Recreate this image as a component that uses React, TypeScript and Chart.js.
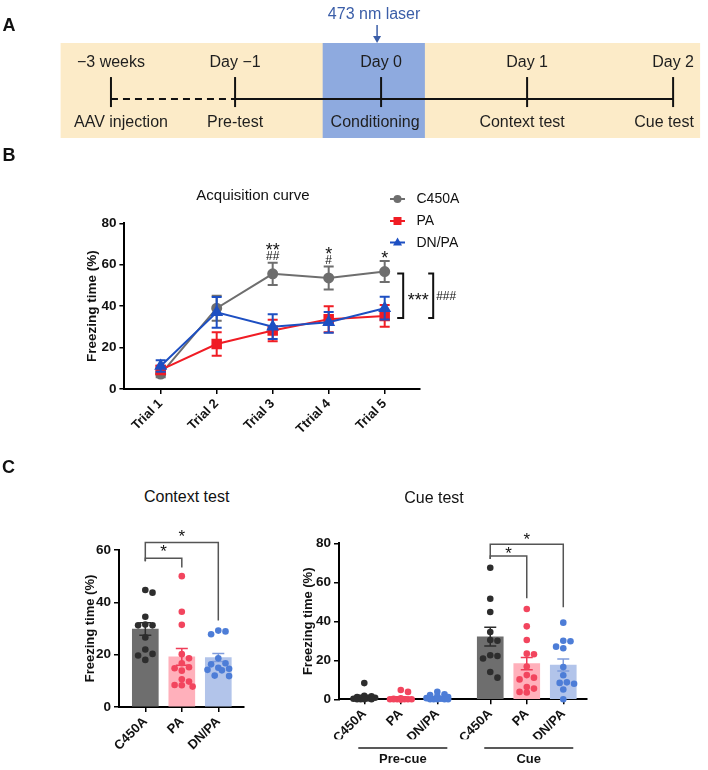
import React, { useEffect, useRef } from 'react';
import { Chart, registerables } from 'chart.js';
Chart.register(...registerables);

const FONT = "'Liberation Sans', Arial, Helvetica, sans-serif";
Chart.defaults.font.family = FONT;
Chart.defaults.color = '#111';

// ---------------- Panel A (timeline) ----------------
const timelineTop = ['\u22123 weeks', 'Day \u22121', 'Day 0', 'Day 1', 'Day 2'];
const timelineBottom = ['AAV injection', 'Pre-test', 'Conditioning', 'Context test', 'Cue test'];
const timelineDay = [-1.85, -1, 0, 1, 2];
const laserText = '473 nm laser';
const laserDay = 0;

// ---------------- Panel B (acquisition curve) ----------------
const groups = ['C450A', 'PA', 'DN/PA'];
const trials = ['Trial 1', 'Trial 2', 'Trial 3', 'Ttrial 4', 'Trial 5'];
const acqC450A = [7.2, 39, 55.6, 53.6, 56.7];
const acqC450AErr = [1.5, 6, 5.4, 5.6, 5.1];
const acqPA = [9.2, 21.7, 28.2, 33.7, 35.3];
const acqPAErr = [2, 5.7, 5.2, 6.3, 5.3];
const acqDN = [11.1, 37, 30.1, 32.2, 39];
const acqDNErr = [2.8, 7.4, 6, 5, 5.5];
const acqSigPA = ['', '', '**', '*', '*'];
const acqSigDN = ['', '', '##', '#', ''];
const acqOverallPA = '***';
const acqOverallDN = '###';

// ---------------- Panel C (context test) ----------------
const ctxMean = [29.8, 19.2, 18.9];
const ctxSem = [2.4, 3.2, 1.5];
const ctxC450A = [44.7, 43.7, 34.5, 31.2, 31.2, 31.5, 26.6, 22.0, 20.3, 19.7, 18.0];
const ctxPA = [50, 36.4, 31.4, 20.2, 18.6, 16.7, 15.2, 14.8, 13.9, 10.6, 9.7, 8.4, 7.8, 8.3];
const ctxDN = [29.2, 28.9, 27.8, 18.6, 16.7, 16.3, 15.0, 14.6, 14.2, 14.0, 12.0, 11.8];

// ---------------- Panel C (cue test) ----------------
const cuePhases = ['Pre-cue', 'Cue'];
const preMean = [1.3, 0.8, 1.0];
const preSem = [0.8, 0.5, 0.4];
const cueMean = [32.1, 18.3, 17.6];
const cueSem = [4.8, 3.2, 3.1];
const preC450A = [8.3, 1.8, 1.5, 1.2, 0.8, 0.5, 0.3, 0, 0, 0, 0];
const prePA = [4.8, 3.8, 0.5, 0.3, 0, 0, 0, 0, 0, 0, 0, 0, 0, 0];
const preDN = [3.9, 2.6, 2.2, 1.5, 1.2, 0.6, 0.3, 0, 0, 0, 0, 0];
const cueC450A = [67.5, 51.6, 44.8, 34.5, 30.4, 30.0, 22.6, 22.2, 20.9, 14.0, 11.1];
const cuePA = [46.3, 37.4, 30.4, 23.4, 23.1, 16.8, 12.4, 11.1, 10.2, 6.3, 5.5, 3.8, 3.5];
const cueDN = [39.3, 30.0, 29.8, 27.0, 26.2, 16.6, 12.3, 8.7, 8.4, 8.0, 5.0, 0.0];

// ---------------- styles ----------------
const barColors = ['#6e6e6e', '#ffb0bb', '#b2c4ea'];
const dotColors = ['#2d2d2d', '#f2455e', '#4d7dd7'];
const errColors = ['#2d2d2d', '#ef3d58', '#7f9cdc'];
const lineColors = ['#6e6e6e', '#f01c24', '#1d4fc2'];
const lineStyles = ['circle', 'rect', 'triangle'];
const lineRadius = [4.5, 6, 5.5];

function glyph(ctx: CanvasRenderingContext2D, text: string, x: number, cy: number, size: number, weight = 'normal') {
  ctx.save();
  ctx.font = `${weight} ${size}px ${FONT}`;
  ctx.textAlign = 'center';
  ctx.textBaseline = 'alphabetic';
  const k = text.includes('#') ? 0.355 : 0.56;
  ctx.fillText(text, x, cy + k * size);
  ctx.restore();
}

function swarmOffsets(vals: number[], pxPerY: number, d: number, maxHalf: number) {
  const idx = vals.map((_, i) => i).sort((a, b) => vals[b] - vals[a]);
  const placed: { x: number; y: number }[] = [];
  const out = new Array(vals.length).fill(0);
  const cands = [0];
  for (let k = 1; (k * d) / 2 <= maxHalf; k++) cands.push((k * d) / 2, (-k * d) / 2);
  for (const i of idx) {
    const y = vals[i] * pxPerY;
    let best = 0;
    let bestScore = -1;
    for (const c of cands) {
      let m = Infinity;
      for (const p of placed) m = Math.min(m, Math.hypot(p.x - c, p.y - y));
      if (m >= d) { best = c; break; }
      if (m > bestScore) { bestScore = m; best = c; }
    }
    placed.push({ x: best, y });
    out[i] = best;
  }
  return out;
}

const axisCommon = (w: number) => ({
  border: { display: true, color: '#000', width: w },
  grid: { display: true, drawOnChartArea: false, drawTicks: true, tickLength: 5, color: '#000', lineWidth: 1.5 },
});

// ---------------- Chart A ----------------
function makeA(canvas: HTMLCanvasElement) {
  const bottomNudge = [10, 0, -6, -5, -9];
  const plugin = {
    id: 'timeline',
    beforeDatasetsDraw(chart: any) {
      const { ctx, chartArea: a } = chart;
      const x = chart.scales.x;
      ctx.save();
      ctx.fillStyle = '#fcebc8';
      const l = x.getPixelForValue(timelineDay[0] - 0.345), r = x.getPixelForValue(timelineDay[4] + 0.185);
      ctx.fillRect(l, a.top, r - l, a.bottom - a.top);
      ctx.fillStyle = '#8eaadf';
      const bl = x.getPixelForValue(laserDay - 0.4), br = x.getPixelForValue(laserDay + 0.3);
      ctx.fillRect(bl, a.top, br - bl, a.bottom - a.top);
      ctx.restore();
    },
    afterDatasetsDraw(chart: any) {
      const { ctx, chartArea: a } = chart;
      const x = chart.scales.x, y = chart.scales.y;
      const ly = y.getPixelForValue(0);
      ctx.save();
      ctx.strokeStyle = '#111';
      ctx.lineWidth = 2;
      timelineDay.forEach((d: number) => {
        const px = x.getPixelForValue(d);
        ctx.beginPath(); ctx.moveTo(px, ly - 22); ctx.lineTo(px, ly + 8); ctx.stroke();
      });
      ctx.fillStyle = '#1e1e1e';
      ctx.font = `16px ${FONT}`;
      ctx.textAlign = 'center';
      ctx.textBaseline = 'middle';
      timelineDay.forEach((d: number, i: number) => {
        const px = x.getPixelForValue(d);
        ctx.fillText(timelineTop[i], px, ly - 36);
        ctx.fillText(timelineBottom[i], px + bottomNudge[i], ly + 24);
      });
      const lx = x.getPixelForValue(laserDay) - 4;
      ctx.fillStyle = '#3b5ea8';
      ctx.strokeStyle = '#3b5ea8';
      ctx.fillText(laserText, lx - 3, 15);
      ctx.lineWidth = 1.5;
      ctx.beginPath(); ctx.moveTo(lx, 25); ctx.lineTo(lx, a.top - 6); ctx.stroke();
      ctx.beginPath(); ctx.moveTo(lx - 4, a.top - 7); ctx.lineTo(lx + 4, a.top - 7); ctx.lineTo(lx, a.top); ctx.closePath(); ctx.fill();
      ctx.restore();
    },
  };
  return new Chart(canvas, {
    type: 'scatter',
    data: {
      datasets: [
        { data: timelineDay.slice(0, 2).map((d) => ({ x: d, y: 0 })), showLine: true, borderDash: [7, 5], borderColor: '#111', borderWidth: 2, pointRadius: 0 },
        { data: timelineDay.slice(1).map((d) => ({ x: d, y: 0 })), showLine: true, borderColor: '#111', borderWidth: 2, pointRadius: 0 },
      ],
    } as any,
    options: {
      responsive: false, animation: false, events: [],
      layout: { padding: { top: 43, bottom: 7, left: 0, right: 0 } },
      plugins: { legend: { display: false }, tooltip: { enabled: false } },
      scales: {
        x: { type: 'linear', display: false, min: -2.61, max: 2.239 },
        y: { type: 'linear', display: false, min: -0.82, max: 1.18 },
      },
    } as any,
    plugins: [plugin],
  });
}

// ---------------- Chart B ----------------
function makeB(canvas: HTMLCanvasElement) {
  const series = [
    { vals: acqC450A, errs: acqC450AErr },
    { vals: acqPA, errs: acqPAErr },
    { vals: acqDN, errs: acqDNErr },
  ];
  const datasets = series.map((s, k) => ({
    label: groups[k],
    data: s.vals.map((v, i) => ({ x: i + 1, y: v })),
    borderColor: lineColors[k], backgroundColor: lineColors[k],
    pointBackgroundColor: lineColors[k], pointBorderColor: lineColors[k],
    pointStyle: lineStyles[k], pointRadius: lineRadius[k], borderWidth: 2,
    errs: s.errs, order: 3 - k, clip: false,
  }));
  const plugin = {
    id: 'acqDecor',
    afterDatasetDraw(chart: any, args: any) {
      const ds: any = chart.data.datasets[args.index];
      const ctx = chart.ctx; const y = chart.scales.y;
      ctx.save();
      ctx.strokeStyle = ds.borderColor; ctx.lineWidth = 2;
      args.meta.data.forEach((el: any, j: number) => {
        const v = ds.data[j].y, e = ds.errs[j];
        const t = y.getPixelForValue(v + e), b = y.getPixelForValue(v - e);
        ctx.beginPath();
        ctx.moveTo(el.x, t); ctx.lineTo(el.x, b);
        ctx.moveTo(el.x - 5, t); ctx.lineTo(el.x + 5, t);
        ctx.moveTo(el.x - 5, b); ctx.lineTo(el.x + 5, b);
        ctx.stroke();
      });
      ctx.restore();
    },
    afterDraw(chart: any) {
      const ctx = chart.ctx; const x = chart.scales.x, y = chart.scales.y;
      ctx.save();
      ctx.fillStyle = '#111';
      // significance per trial
      acqC450A.forEach((v, i) => {
        const px = x.getPixelForValue(i + 1);
        const top = y.getPixelForValue(v + acqC450AErr[i]);
        if (acqSigDN[i]) {
          glyph(ctx, acqSigPA[i], px, top - 16.5, 18);
          glyph(ctx, acqSigDN[i], px, top - 6.5, 12);
        } else if (acqSigPA[i]) {
          glyph(ctx, acqSigPA[i], px, top - 7.5, 18);
        }
      });
      // overall brackets
      const last = acqC450A.length - 1;
      const x5 = x.getPixelForValue(last + 1);
      const yt = y.getPixelForValue(acqC450A[last]) + 2;
      const yb = y.getPixelForValue(acqPA[last]) + 2;
      ctx.strokeStyle = '#111'; ctx.lineWidth = 2;
      [[18.5, 6], [48.5, 5]].forEach(([dx, tl]) => {
        ctx.beginPath();
        ctx.moveTo(x5 + dx - tl, yt); ctx.lineTo(x5 + dx, yt); ctx.lineTo(x5 + dx, yb); ctx.lineTo(x5 + dx - tl, yb);
        ctx.stroke();
      });
      glyph(ctx, acqOverallPA, x5 + 33.5, (yt + yb) / 2, 18);
      glyph(ctx, acqOverallDN, x5 + 61.5, (yt + yb) / 2, 12);
      // legend
      const rows = [59, 81, 102.5];
      chart.data.datasets.forEach((ds: any, k: number) => {
        const ry = rows[k];
        ctx.strokeStyle = ds.borderColor; ctx.fillStyle = ds.borderColor; ctx.lineWidth = 2;
        ctx.beginPath(); ctx.moveTo(390, ry); ctx.lineTo(405, ry); ctx.stroke();
        const mx = 397.5;
        ctx.beginPath();
        if (ds.pointStyle === 'circle') ctx.arc(mx, ry, 4, 0, Math.PI * 2);
        else if (ds.pointStyle === 'rect') ctx.rect(mx - 4, ry - 4, 8, 8);
        else { ctx.moveTo(mx, ry - 5); ctx.lineTo(mx + 4.5, ry + 3); ctx.lineTo(mx - 4.5, ry + 3); ctx.closePath(); }
        ctx.fill();
        ctx.fillStyle = '#111';
        ctx.font = `14px ${FONT}`; ctx.textAlign = 'left'; ctx.textBaseline = 'middle';
        ctx.fillText(ds.label, 416.5, ry + 0.5);
      });
      ctx.restore();
    },
  };
  return new Chart(canvas, {
    type: 'line',
    data: { datasets } as any,
    options: {
      responsive: false, animation: false, events: [],
      layout: { padding: { top: 83.3, right: 70.7, left: 83.9, bottom: 0 } },
      plugins: { legend: { display: false }, tooltip: { enabled: false } },
      scales: {
        x: {
          type: 'linear', min: 0.352, max: 5.618, offset: false,
          afterBuildTicks: (s: any) => { s.ticks = trials.map((_, i) => ({ value: i + 1 })); },
          afterFit: (s: any) => { s.height = 51; },
          ticks: { autoSkip: false, callback: (_v: any, i: number) => trials[i], minRotation: 45, maxRotation: 45, font: { size: 13, weight: 'bold' }, color: '#111', padding: 2 },
          ...axisCommon(2),
        },
        y: {
          min: 0, max: 80,
          afterFit: (s: any) => { s.width = 40.5; },
          ticks: { stepSize: 20, font: { size: 13.5, weight: 'bold' }, color: '#111', padding: 3 },
          title: { display: true, text: 'Freezing time (%)', font: { size: 13.5, weight: 'bold' }, color: '#111', padding: { top: 0, bottom: 0 } },
          ...axisCommon(2),
        },
      },
    } as any,
    plugins: [plugin],
  });
}

// ---------------- Bar + dot charts (C) ----------------
const barDecor = {
  id: 'barDecor',
  afterDatasetDraw(chart: any, args: any) {
    const ds: any = chart.data.datasets[args.index];
    if (!ds.sem) return;
    const ctx = chart.ctx; const y = chart.scales.y;
    ctx.save();
    ctx.lineWidth = 1.5;
    args.meta.data.forEach((el: any, j: number) => {
      const v = ds.data[j].y, e = ds.sem[j];
      const t = y.getPixelForValue(v + e), b = y.getPixelForValue(Math.max(v - e, 0));
      ctx.strokeStyle = ds.errColors[j];
      ctx.beginPath();
      ctx.moveTo(el.x, t); ctx.lineTo(el.x, b);
      ctx.moveTo(el.x - 6, t); ctx.lineTo(el.x + 6, t);
      ctx.moveTo(el.x - 6, b); ctx.lineTo(el.x + 6, b);
      ctx.stroke();
    });
    ctx.restore();
  },
  afterDraw(chart: any, _a: any, opts: any) {
    const ctx = chart.ctx; const xs = chart.scales.x, ys = chart.scales.y;
    const pos: number[] = opts.positions;
    ctx.save();
    ctx.strokeStyle = '#555'; ctx.lineWidth = 1.5; ctx.fillStyle = '#111';
    const tops = opts.brackets.map((b: any) => ys.getPixelForValue(b.top));
    const leftBottom = Math.max(...tops) + 3;
    opts.brackets.forEach((b: any) => {
      const x1 = xs.getPixelForValue(pos[b.from]), x2 = xs.getPixelForValue(pos[b.to]);
      const yt = ys.getPixelForValue(b.top), yl = ys.getPixelForValue(b.legEnd);
      ctx.beginPath();
      ctx.moveTo(x1, leftBottom); ctx.lineTo(x1, yt); ctx.lineTo(x2, yt); ctx.lineTo(x2, yl);
      ctx.stroke();
      glyph(ctx, b.label, (x1 + x2) / 2, yt - b.gap, 17);
    });
    if (opts.phases) {
      const a = chart.chartArea;
      ctx.strokeStyle = '#222'; ctx.lineWidth = 1.5;
      opts.phases.forEach((p: any) => {
        const x1 = xs.getPixelForValue(pos[p.first]) - 6, x2 = xs.getPixelForValue(pos[p.last]) + 10;
        ctx.beginPath(); ctx.moveTo(x1, a.bottom + 48.7); ctx.lineTo(x2, a.bottom + 48.7); ctx.stroke();
        ctx.font = `bold 13px ${FONT}`; ctx.textAlign = 'center'; ctx.textBaseline = 'middle';
        ctx.fillText(p.label, (x1 + x2) / 2, a.bottom + 60);
      });
    }
    ctx.restore();
  },
};

function makeBarChart(canvas: HTMLCanvasElement, cfg: any) {
  const { positions, labels, means, sems, dots, colorIdx, xmin, xmax, ymax, area, canvasW, canvasH, yW, xH, brackets, phases } = cfg;
  const padLeft = area.left - yW;
  const padBottom = canvasH - area.bottom - xH;
  const xPxPerUnit = (area.right - area.left) / (xmax - xmin);
  const yPxPerUnit = (area.bottom - area.top) / ymax;
  const dotDatasets = dots.map((vals: number[], g: number) => {
    const offs = swarmOffsets(vals, yPxPerUnit, 7.2, 11);
    return {
      type: 'scatter',
      data: vals.map((v, i) => ({ x: positions[g] + offs[i] / xPxPerUnit, y: v })),
      pointRadius: 3.3, pointBackgroundColor: dotColors[colorIdx[g]], pointBorderWidth: 0, borderWidth: 0,
      showLine: false, clip: false, order: 1,
    };
  });
  return new Chart(canvas, {
    type: 'bar',
    data: {
      datasets: [
        {
          type: 'bar',
          data: means.map((m: number, i: number) => ({ x: positions[i], y: m })),
          backgroundColor: colorIdx.map((c: number) => barColors[c]),
          barThickness: 26, order: 2, sem: sems,
          errColors: colorIdx.map((c: number) => errColors[c]),
        },
        ...dotDatasets,
      ],
    } as any,
    options: {
      responsive: false, animation: false, events: [],
      layout: { padding: { top: area.top, left: padLeft, right: canvasW - area.right, bottom: padBottom } },
      plugins: { legend: { display: false }, tooltip: { enabled: false }, barDecor: { positions, brackets, phases } },
      scales: {
        x: {
          type: 'linear', min: xmin, max: xmax, offset: false,
          afterBuildTicks: (s: any) => { s.ticks = positions.map((v: number) => ({ value: v })); },
          afterFit: (s: any) => { s.height = xH; },
          ticks: { autoSkip: false, callback: (_v: any, i: number) => labels[i], minRotation: 45, maxRotation: 45, font: { size: 13, weight: 'bold' }, color: '#111', padding: 2 },
          ...axisCommon(2),
          grid: { display: true, drawOnChartArea: false, drawTicks: true, tickLength: 5, color: '#000', lineWidth: 1.5, offset: false },
        },
        y: {
          min: 0, max: ymax,
          afterFit: (s: any) => { s.width = yW; },
          ticks: { stepSize: 20, font: { size: 13.5, weight: 'bold' }, color: '#111', padding: 3 },
          title: { display: true, text: 'Freezing time (%)', font: { size: 13, weight: 'bold' }, color: '#111', padding: { top: 0, bottom: 0 } },
          ...axisCommon(2),
        },
      },
    } as any,
    plugins: [barDecor],
  });
}

function makeContext(canvas: HTMLCanvasElement) {
  return makeBarChart(canvas, {
    positions: groups.map((_, i) => i + 1),
    labels: groups,
    means: ctxMean, sems: ctxSem,
    dots: [ctxC450A, ctxPA, ctxDN],
    colorIdx: [0, 1, 2],
    xmin: 0.279, xmax: 3.685, ymax: 60,
    area: { left: 119, right: 243.3, top: 45, bottom: 202 },
    canvasW: 265, canvasH: 265, yW: 36.8, xH: 63,
    brackets: [
      { from: 0, to: 1, label: '*', top: 56.8, legEnd: 53.3, gap: 10.5 },
      { from: 0, to: 2, label: '*', top: 62.9, legEnd: 33.1, gap: 10 },
    ],
  });
}

function makeCue(canvas: HTMLCanvasElement) {
  const gap = 0.45;
  const positions: number[] = [];
  const labels: string[] = [];
  cuePhases.forEach((_, p) => groups.forEach((g, i) => { positions.push(p * (groups.length + gap) + i + 1); labels.push(g); }));
  return makeBarChart(canvas, {
    positions, labels,
    means: [...preMean, ...cueMean], sems: [...preSem, ...cueSem],
    dots: [preC450A, prePA, preDN, cueC450A, cuePA, cueDN],
    colorIdx: [0, 1, 2, 0, 1, 2],
    xmin: 0.307, xmax: 7.1, ymax: 80,
    area: { left: 74, right: 322, top: 38.3, bottom: 194.3 },
    canvasW: 443, canvasH: 265, yW: 38.5, xH: 40,
    brackets: [
      { from: 3, to: 4, label: '*', top: 73.5, legEnd: 51.8, gap: 6 },
      { from: 3, to: 5, label: '*', top: 79.5, legEnd: 47.2, gap: 8.5 },
    ],
    phases: cuePhases.map((label, p) => ({ label, first: p * groups.length, last: p * groups.length + groups.length - 1 })),
  });
}

const textStyle = (x: number, y: number, size: number, bold = false, color = '#111'): React.CSSProperties => ({
  position: 'absolute', left: x, top: y, transform: 'translate(-50%, -50%)', fontSize: size,
  fontWeight: bold ? 'bold' : 'normal', color, lineHeight: 1, whiteSpace: 'nowrap', fontFamily: FONT,
});

export default function App() {
  const refA = useRef<HTMLCanvasElement>(null);
  const refB = useRef<HTMLCanvasElement>(null);
  const refC1 = useRef<HTMLCanvasElement>(null);
  const refC2 = useRef<HTMLCanvasElement>(null);
  useEffect(() => {
    const charts = [makeA(refA.current!), makeB(refB.current!), makeContext(refC1.current!), makeCue(refC2.current!)];
    return () => charts.forEach((c) => c.destroy());
  }, []);
  return (
    <div style={{ position: 'absolute', left: 0, top: 0, width: 708, height: 770, background: '#fff', overflow: 'hidden', fontFamily: FONT }}>
      <canvas ref={refA} width={708} height={145} style={{ position: 'absolute', left: 0, top: 0 }} />
      <canvas ref={refB} width={490} height={300} style={{ position: 'absolute', left: 0, top: 140 }} />
      <canvas ref={refC1} width={265} height={265} style={{ position: 'absolute', left: 0, top: 505 }} />
      <canvas ref={refC2} width={443} height={265} style={{ position: 'absolute', left: 265, top: 505 }} />
      <div style={textStyle(9, 25, 18, true)}>A</div>
      <div style={textStyle(9, 155, 18, true)}>B</div>
      <div style={textStyle(8.5, 466.5, 18, true)}>C</div>
      <div style={textStyle(253, 194, 15)}>Acquisition curve</div>
      <div style={textStyle(186.7, 496.7, 16)}>Context test</div>
      <div style={textStyle(434, 497.7, 16)}>Cue test</div>
    </div>
  );
}
